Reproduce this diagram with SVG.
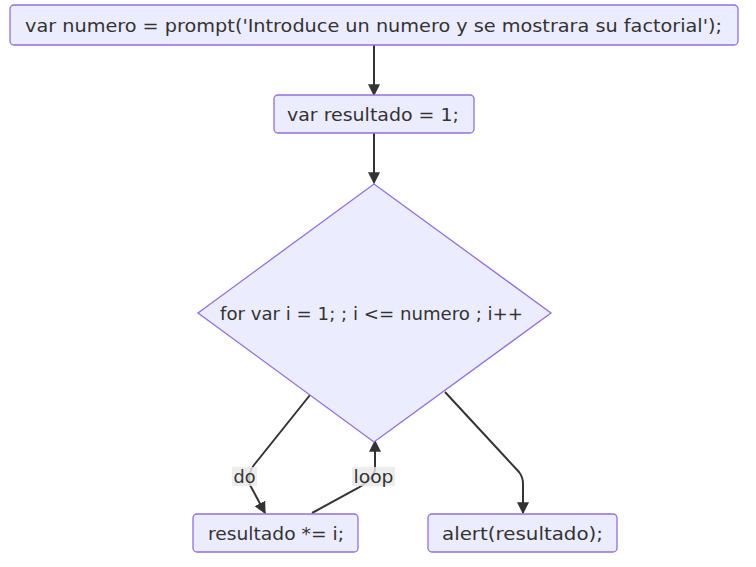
<svg xmlns="http://www.w3.org/2000/svg" width="756" height="567" viewBox="0 0 756 567">
<style>
.node rect, .node polygon { fill: #ECECFF; stroke: #9370DB; stroke-width: 1.3; }
.node text, .lbl text { font-family: "DejaVu Sans", Verdana, sans-serif; font-size: 18px; fill: #333; text-anchor: middle; dominant-baseline: central; }
.lbl text { font-size: 18.5px; }
.edge { fill: none; stroke: #333; stroke-width: 2; }
.lbl rect { fill: #e8e8e8; fill-opacity: 0.8; }
</style>
<defs>
<marker id="arrow" viewBox="0 0 10 10" refX="9" refY="5" markerWidth="6" markerHeight="6" markerUnits="strokeWidth" orient="auto">
<path d="M0,0 L10,5 L0,10 z" fill="#333"/>
</marker>
</defs>
<rect width="756" height="567" fill="#ffffff"/>
<g id="connectors">
<path class="edge" d="M374,45 L374,95" marker-end="url(#arrow)"/>
<path class="edge" d="M374,133 L374,183" marker-end="url(#arrow)"/>
<path class="edge" d="M310,395 L254,465 Q247,474 250,485 L265,513" marker-end="url(#arrow)"/>
<path class="edge" d="M312,513 L358,488 Q375,478 375,468 L375,441" marker-end="url(#arrow)"/>
<path class="edge" d="M445,392 L519,472 Q523,477 523,484 L523,513" marker-end="url(#arrow)"/>
</g>
<g id="labels">
<g class="lbl" id="label-do"><rect x="232" y="467" width="25" height="19"/><text x="244.5" y="476.5" textLength="22" lengthAdjust="spacingAndGlyphs">do</text></g>
<g class="lbl" id="label-loop"><rect x="352" y="467" width="43" height="19"/><text x="373.5" y="476.5" textLength="40" lengthAdjust="spacingAndGlyphs">loop</text></g>
</g>
<g class="node" id="node-prompt"><rect x="10" y="5" width="728" height="40" rx="4"/><text x="373.5" y="25" textLength="697" lengthAdjust="spacingAndGlyphs">var numero = prompt('Introduce un numero y se mostrara su factorial');</text></g>
<g class="node" id="node-resultado"><rect x="274" y="95" width="200" height="38" rx="4"/><text x="373" y="114" textLength="172" lengthAdjust="spacingAndGlyphs">var resultado = 1;</text></g>
<g class="node" id="node-for"><polygon points="374,184 551,313 374,442 198,313"/><text x="371.5" y="313" textLength="303" lengthAdjust="spacingAndGlyphs">for var i = 1; ; i &lt;= numero ; i++</text></g>
<g class="node" id="node-mult"><rect x="193" y="514" width="165" height="38" rx="4"/><text x="276" y="533" textLength="136" lengthAdjust="spacingAndGlyphs">resultado *= i;</text></g>
<g class="node" id="node-alert"><rect x="428" y="514" width="189" height="38" rx="4"/><text x="522.5" y="533" textLength="161" lengthAdjust="spacingAndGlyphs">alert(resultado);</text></g>
</svg>
